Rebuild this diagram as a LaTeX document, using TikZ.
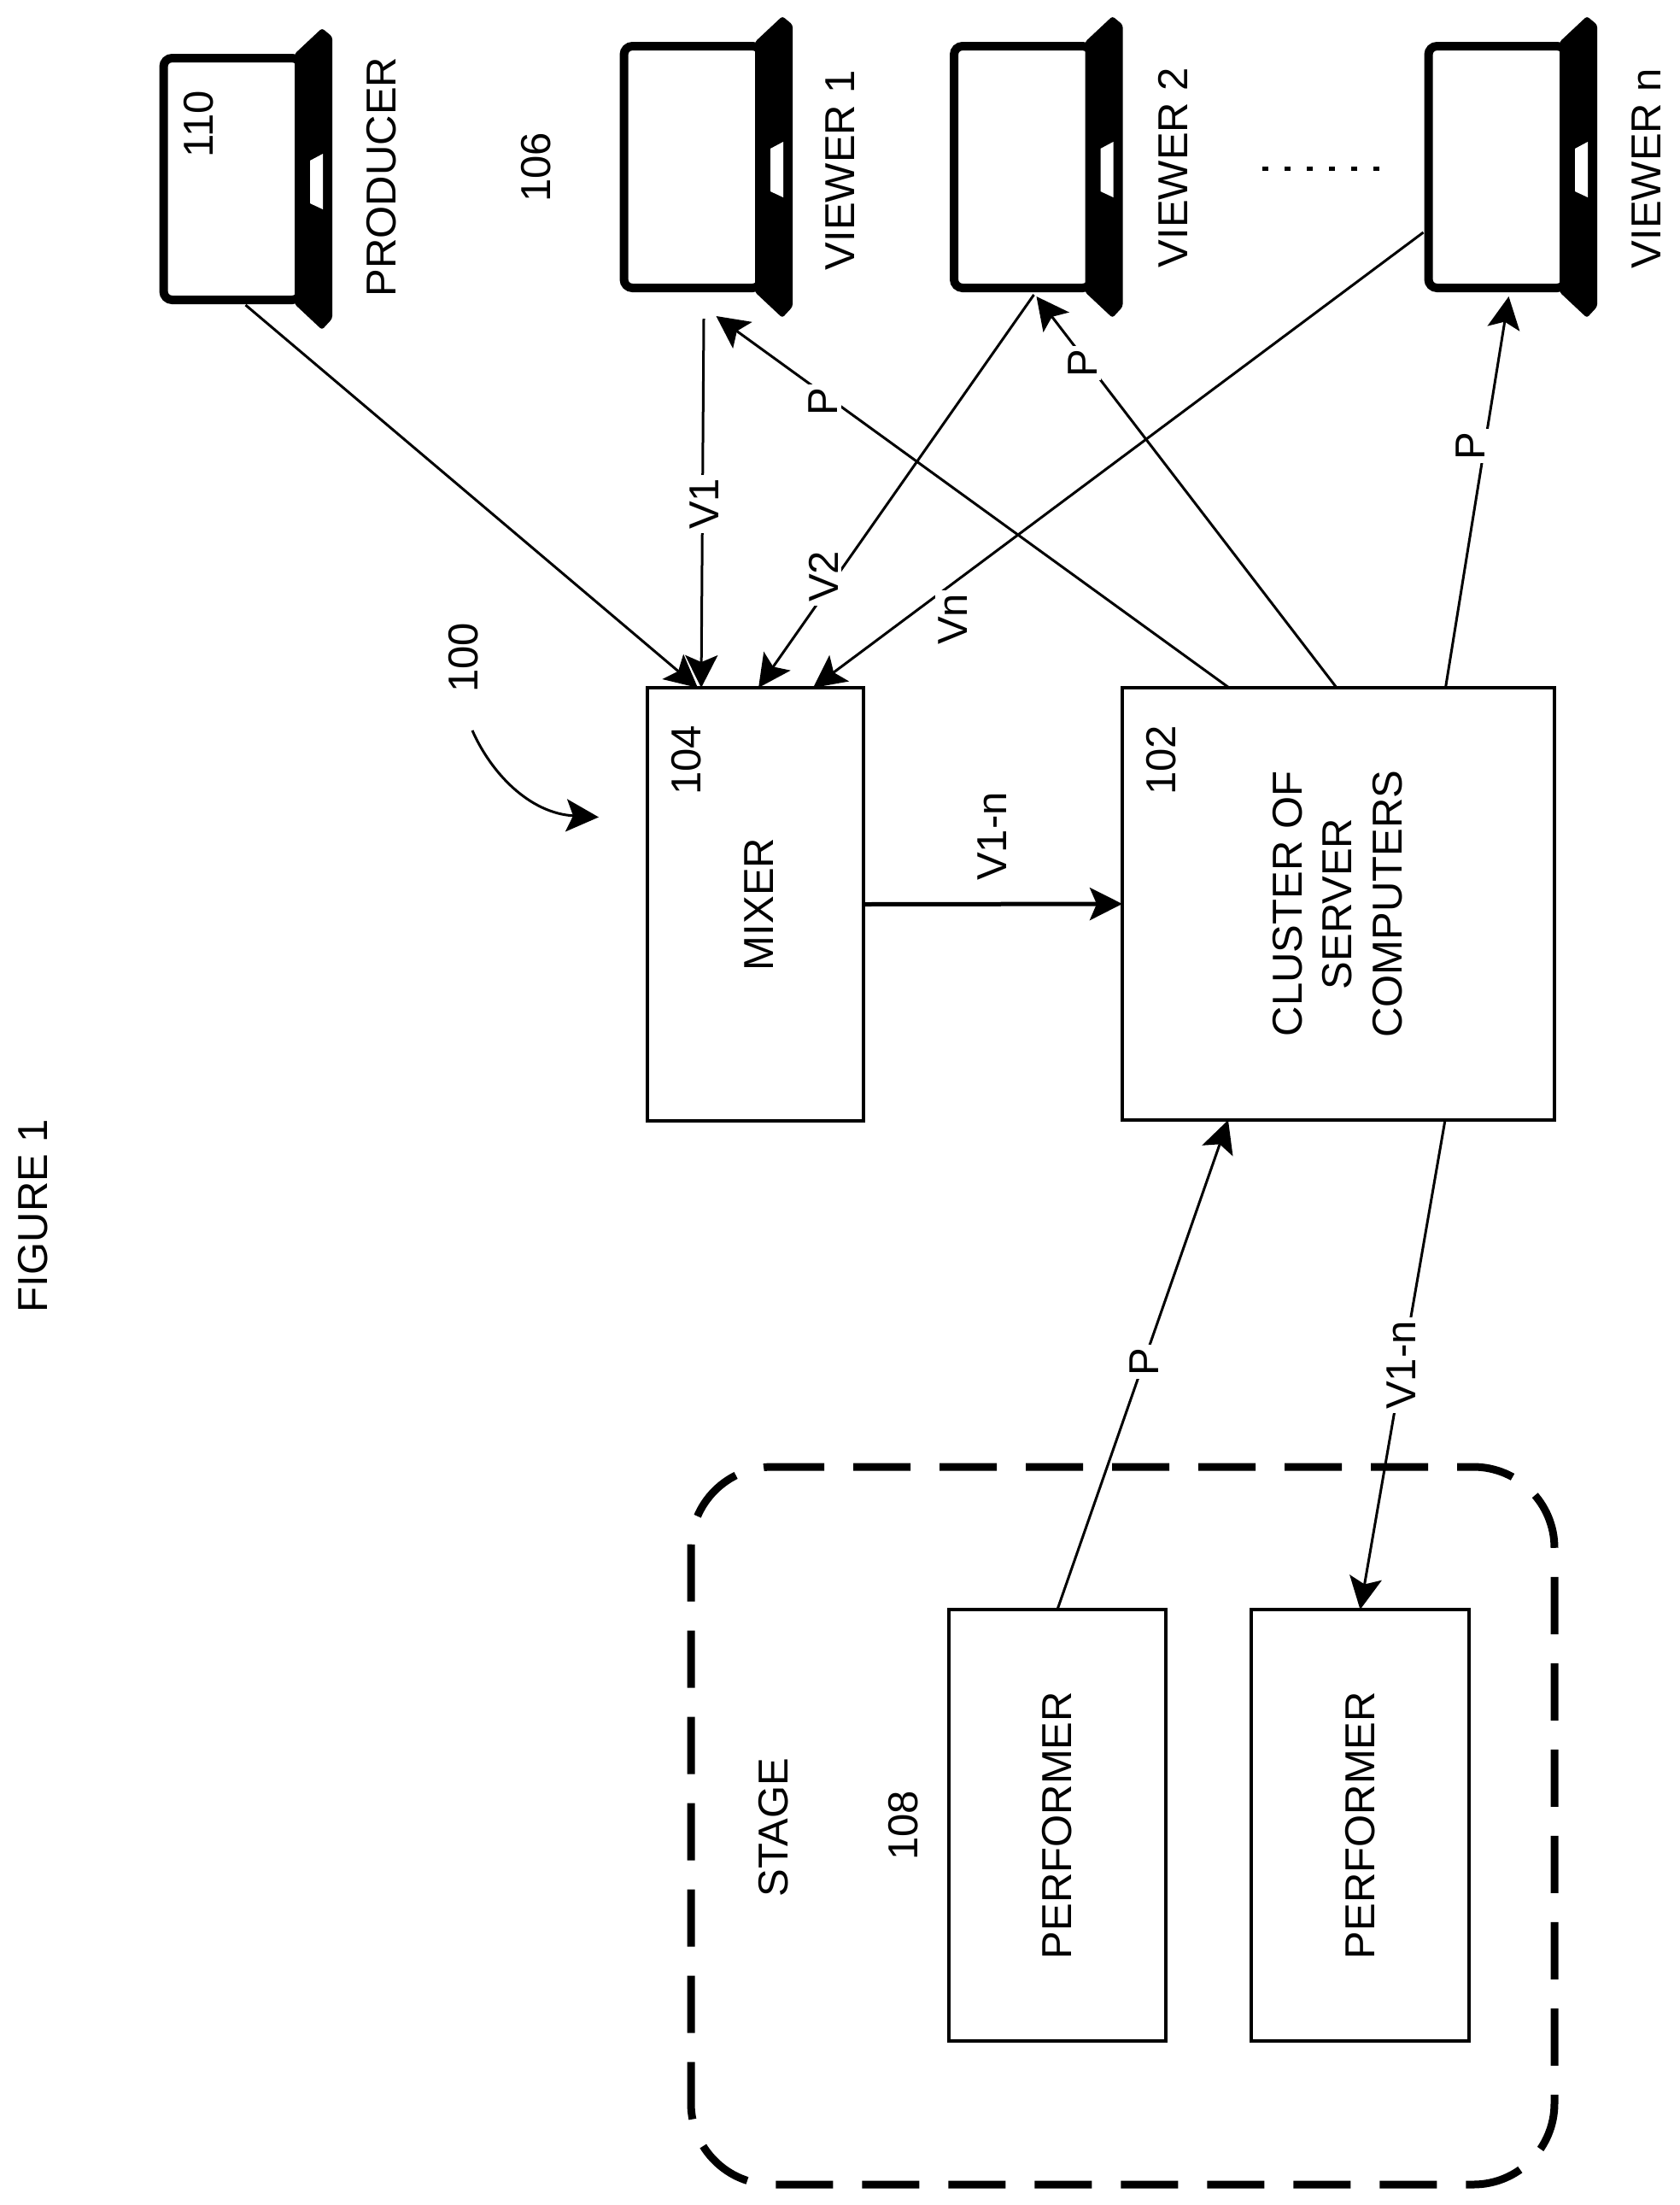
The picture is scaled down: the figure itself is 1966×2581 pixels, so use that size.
\documentclass[tikz,border=0pt]{standalone}
\usepackage{fontspec}
\setmainfont{Liberation Sans}
\usetikzlibrary{arrows.meta,calc}
\tikzset{
  lab/.style={font=\fontsize{49}{58.5}\selectfont,inner sep=0pt,outer sep=0pt},
  onwire/.style={lab,fill=white,inner sep=4pt},
  boxnode/.style={draw,line width=4pt,font=\fontsize{49}{58.5}\selectfont,inner sep=0pt,outer sep=0pt,fill=white},
  wire/.style={line width=3pt,-{Stealth[length=38pt,width=38pt,inset=8pt]}},
  laptopscreen/.style={draw,line width=10pt,rounded corners=10pt,minimum width=160.5pt,minimum height=283pt,inner sep=0pt,fill=white},
  stageline/.style={line width=9pt,dash pattern=on 67pt off 34pt,dash phase=6pt,rounded corners=95pt}
}
\newcommand{\rt}[1]{\rotatebox{90}{#1}}
\newcommand{\laptopfig}[3]{%
  \begin{scope}[shift={(#2,#3)}]
    \node[laptopscreen] (#1) at (84.75,146.5) {};
    \fill[black,rounded corners=3pt] (158,0) -- (190,-30) -- (202,-20) -- (202,310) -- (190,323) -- (158,293) -- cycle;
    \fill[white] (176,125) -- (191,117) -- (191,182) -- (176,175) -- cycle;
  \end{scope}}
\begin{document}
\begin{tikzpicture}[x=1pt,y=-1pt]
\useasboundingbox (0,0) rectangle (1966,2581);
\fill[white] (0,0) rectangle (1966,2581);

% stage
\draw[stageline] (904,1717) -- (1820,1717) -- (1820,2557) -- (809,2557) -- (809,1717) -- (904,1717);

% laptops
\laptopfig{producer}{187}{63}
\laptopfig{viewerA}{726}{49}
\laptopfig{viewerB}{1112.5}{49}
\laptopfig{viewerN}{1668}{49}

% boxes
\node[boxnode,minimum width=253pt,minimum height=507pt] (mixer) at (884.5,1058.5) {\hspace*{9pt}\rt{MIXER}};
\node[boxnode,minimum width=506pt,minimum height=506pt] (cluster) at (1567,1058) {\hspace*{8pt}\rt{\begin{tabular}{@{}c@{}}CLUSTER OF\\SERVER\\COMPUTERS\end{tabular}}};
\node[boxnode,line width=3.5pt,minimum width=254pt,minimum height=505pt] (perfA) at (1238,2136.5) {\rt{PERFORMER}};
\node[boxnode,line width=3.5pt,minimum width=255pt,minimum height=505pt] (perfB) at (1592.5,2136.5) {\rt{PERFORMER}};

% connector ends
\coordinate (mixA) at ($(mixer.north west)!.233!(mixer.north east)$);
\coordinate (mixB) at ($(mixer.north west)!.249!(mixer.north east)$);
\coordinate (mixC) at ($(mixer.north west)!.514!(mixer.north east)$);
\coordinate (mixD) at ($(mixer.north west)!.767!(mixer.north east)$);
\coordinate (cluA) at ($(cluster.north west)!.247!(cluster.north east)$);
\coordinate (cluB) at ($(cluster.north west)!.496!(cluster.north east)$);
\coordinate (cluC) at ($(cluster.north west)!.748!(cluster.north east)$);
\coordinate (cluD) at ($(cluster.south west)!.245!(cluster.south east)$);
\coordinate (cluE) at ($(cluster.south west)!.747!(cluster.south east)$);
\coordinate (prodOut) at ($(producer.south west)+(101,1)$);
\coordinate (vaOut) at ($(viewerA.south west)+(98.5,31)$);
\coordinate (vaIn) at ($(viewerA.south west)+(113,28)$);
\coordinate (vbOut) at ($(viewerB.south west)+(98.5,3)$);
\coordinate (vbIn) at ($(viewerB.south west)+(101.5,5)$);
\coordinate (vnOut) at ($(viewerN.south west)+(-1,-70)$);
\coordinate (vnIn) at ($(viewerN.south west)+(99,5)$);
\coordinate (sysStart) at (553,855);
\coordinate (sysEnd) at (701,956.5);
\coordinate (dotsA) at (1478,197);
\coordinate (dotsB) at (1618,197);

% connectors
\draw[wire] (prodOut) -- (mixA);
\draw[wire] (vaOut) -- (mixB);
\draw[wire] (vbOut) -- (mixC);
\draw[wire] (vnOut) -- (mixD);
\draw[wire] (cluA) -- (vaIn);
\draw[wire] (cluB) -- (vbIn);
\draw[wire] (cluC) -- (vnIn);
\draw[wire,line width=5pt] (mixer.east) -- (cluster.west);
\draw[wire] (perfA.north) -- (cluD);
\draw[wire] (cluE) -- (perfB.north);
\draw[wire] (sysStart) .. controls (575,905) and (620,952) .. (sysEnd);
\draw[line width=5pt,dash pattern=on 7pt off 19pt] (dotsA) -- (dotsB);

% labels on connectors
\node[onwire] (lVa) at (825,590) {\rt{V1}};
\node[onwire] (lVb) at (964,675) {\rt{V2}};
\node[onwire] (lVn) at (1116,725) {\rt{Vn}};
\node[onwire] (lPa) at (964,470) {\rt{P}};
\node[onwire] (lPb) at (1268,425) {\rt{P}};
\node[onwire] (lPn) at (1722,522) {\rt{P}};
\node[onwire] (lPc) at (1340,1594) {\rt{P}};
\node[onwire] (lVc) at (1641,1598) {\rt{V1-n}};
\node[lab] (lVm) at (1162,979) {\rt{V1-n}};

% free labels
\node[lab] (tFig) at (39,1423) {\rt{FIGURE 1}};
\node[lab] (tProd) at (447,207) {\rt{PRODUCER}};
\node[lab] (t110) at (233,145) {\rt{110}};
\node[lab] (t106) at (628,196) {\rt{106}};
\node[lab] (tVa) at (984,199) {\rt{VIEWER 1}};
\node[lab] (tVb) at (1373,196) {\rt{VIEWER 2}};
\node[lab] (tVn) at (1928,197) {\rt{VIEWER n}};
\node[lab] (t100) at (543,770) {\rt{100}};
\node[lab] (t104) at (804,890) {\rt{104}};
\node[lab] (t102) at (1360,890) {\rt{102}};
\node[lab] (tStage) at (906,2139) {\rt{STAGE}};
\node[lab] (t108) at (1058,2137) {\rt{108}};
\end{tikzpicture}
\end{document}
